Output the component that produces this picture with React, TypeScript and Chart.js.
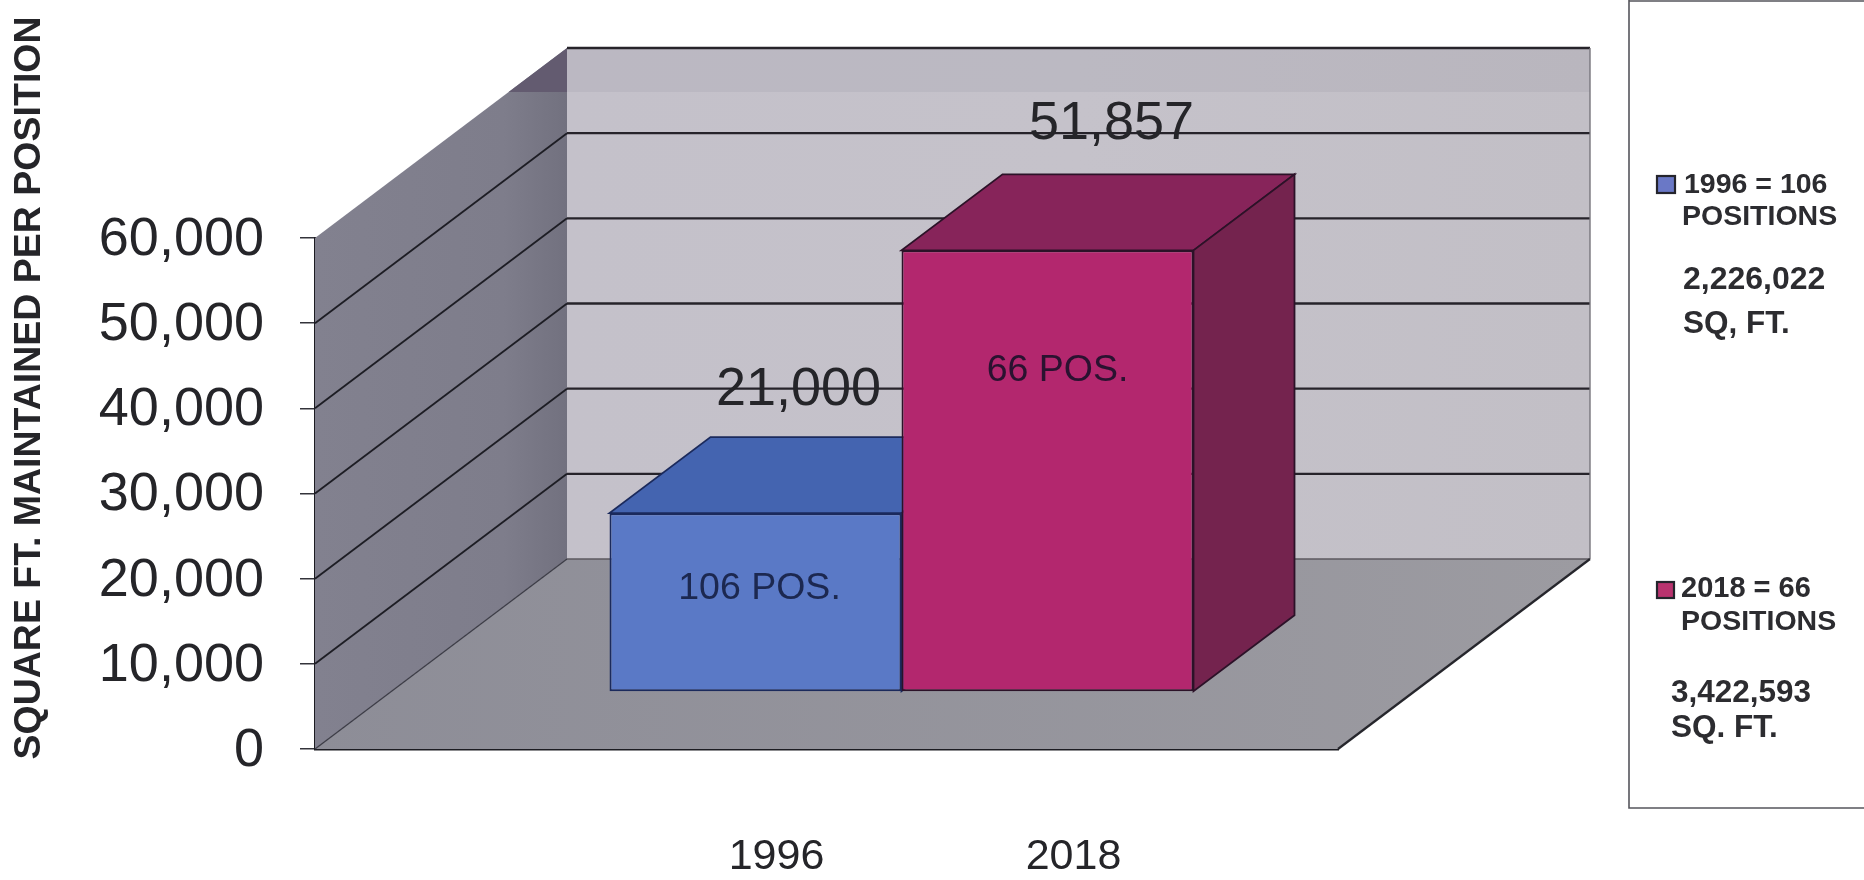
import React, { useEffect, useRef } from "react";
import { Chart, registerables } from "chart.js";

Chart.register(...registerables);

const categories = [""];
const seriesLabels = ["1996 = 106 POSITIONS", "2018 = 66 POSITIONS"];
const seriesValues = [21000, 51857];
const axisYears = ["1996", "2018"];
const barNotes = ["106 POS.", "66 POS."];
const yTitle = "SQUARE FT. MAINTAINED PER POSITION";
const legendLines = [
  ["1996 = 106", "POSITIONS", "2,226,022", "SQ, FT."],
  ["2018 = 66", "POSITIONS", "3,422,593", "SQ. FT."],
];

const FONT = '"Liberation Sans", Arial, sans-serif';
const INK = "#252529";
const DEPTH_X = 252;
const DEPTH_Y = 190;
const BAR_SHIFT_X = 75;
const BAR_SHIFT_Y = 57;
const BAR_DEPTH_X = 101;
const BAR_DEPTH_Y = 76;

const barStyles = [
  { front: "#5a79c6", top: "#4464b0", side: "#3d5699", line: "#1b2a5c", note: "#1c2850" },
  { front: "#b3276e", top: "#87245a", side: "#74234e", line: "#2c1228", note: "#2a1230" },
];
const dataLabelOffsets = [
  { x: 43, y: -123 },
  { x: 64, y: -126 },
];
const yearOffsets = [
  { x: 21, y: 166 },
  { x: 26, y: 166 },
];
const noteOffsets = [
  { x: 4, y: 76 },
  { x: 10, y: 120 },
];

function poly(ctx: CanvasRenderingContext2D, pts: number[][], fill?: any, stroke?: string, width = 1.5) {
  ctx.beginPath();
  pts.forEach((p, i) => (i ? ctx.lineTo(p[0], p[1]) : ctx.moveTo(p[0], p[1])));
  ctx.closePath();
  if (fill) {
    ctx.fillStyle = fill;
    ctx.fill();
  }
  if (stroke) {
    ctx.strokeStyle = stroke;
    ctx.lineWidth = width;
    ctx.stroke();
  }
}

function line(ctx: CanvasRenderingContext2D, x1: number, y1: number, x2: number, y2: number, color: string, width: number) {
  ctx.beginPath();
  ctx.moveTo(x1, y1);
  ctx.lineTo(x2, y2);
  ctx.strokeStyle = color;
  ctx.lineWidth = width;
  ctx.stroke();
}

function openBar(chart: any, i: number) {
  const ctx = chart.ctx;
  const bar = chart.getDatasetMeta(i).data[0];
  const s = barStyles[i];
  const l = bar.x - bar.width / 2;
  const r = bar.x + bar.width / 2;
  const t = bar.y;
  const b = bar.base;
  ctx.save();
  ctx.translate(BAR_SHIFT_X, -BAR_SHIFT_Y);
  poly(ctx, [[l, t], [r, t], [r + BAR_DEPTH_X, t - BAR_DEPTH_Y], [l + BAR_DEPTH_X, t - BAR_DEPTH_Y]], s.top, s.line, 1.8);
  poly(ctx, [[r, t], [r + BAR_DEPTH_X, t - BAR_DEPTH_Y], [r + BAR_DEPTH_X, b - BAR_DEPTH_Y], [r, b]], s.side, s.line, 1.8);
}

const roomPlugin = {
  id: "room",
  beforeDatasetsDraw(chart: any) {
    const { ctx, chartArea: a, scales } = chart;
    const y = scales.y;
    const top = a.top - DEPTH_Y;
    const bot = a.bottom - DEPTH_Y;
    const bx = a.left + DEPTH_X;
    const brx = a.right + DEPTH_X;
    ctx.save();

    const back = ctx.createLinearGradient(bx, 0, brx, 0);
    back.addColorStop(0, "#c4c1ca");
    back.addColorStop(0.5, "#c5c2ca");
    back.addColorStop(1, "#c2bfc6");
    ctx.fillStyle = back;
    ctx.fillRect(bx, top, brx - bx, bot - top);
    ctx.fillStyle = "rgba(110,105,130,0.10)";
    ctx.fillRect(bx, top, brx - bx, 44);

    const wall = ctx.createLinearGradient(a.left, 0, bx, 0);
    wall.addColorStop(0, "#82818f");
    wall.addColorStop(0.75, "#7e7d8b");
    wall.addColorStop(1, "#72717f");
    poly(ctx, [[a.left, a.top], [bx, top], [bx, bot], [a.left, a.bottom]], wall);

    const bandY = top + 44;
    const bandX = bx - (44 / DEPTH_Y) * DEPTH_X;
    poly(ctx, [[bandX, bandY], [bx, top], [bx, bandY]], "#635b70");

    const floor = ctx.createLinearGradient(a.left, 0, brx, 0);
    floor.addColorStop(0, "#8d8d97");
    floor.addColorStop(1, "#9c9ba1");
    poly(ctx, [[a.left, a.bottom], [a.right, a.bottom], [brx, bot], [bx, bot]], floor);

    y.ticks.forEach((t: any) => {
      const py = y.getPixelForValue(t.value);
      if (t.value === 0) {
        line(ctx, a.left, py, bx, py - DEPTH_Y, "#3c3c46", 1.3);
        line(ctx, bx, py - DEPTH_Y, brx, py - DEPTH_Y, "#5c585f", 1.3);
      } else {
        if (t.value < 60000) line(ctx, a.left, py, bx, py - DEPTH_Y, "#1d1d24", 1.8);
        line(ctx, bx, py - DEPTH_Y, brx, py - DEPTH_Y, "#26232a", 2.3);
      }
    });
    line(ctx, brx, top, brx, bot, "#77757c", 1.4);
    line(ctx, a.right, a.bottom, brx, bot, "#26262c", 2.2);
    ctx.restore();
  },
  beforeDatasetDraw(chart: any, args: any) {
    // The library paints the last dataset first; the bars need the opposite
    // order here, so dataset 1 is painted once dataset 0 is finished.
    if (args.index === 1) return false;
    openBar(chart, 0);
    return true;
  },
  afterDatasetDraw(chart: any) {
    chart.ctx.restore();
    openBar(chart, 1);
    chart.getDatasetMeta(1).controller.draw();
    chart.ctx.restore();
  },
  afterDatasetsDraw(chart: any) {
    const { ctx, chartArea: a } = chart;
    ctx.save();
    ctx.textBaseline = "middle";
    ctx.textAlign = "center";

    chart.data.datasets.forEach((ds: any, i: number) => {
      const bar = chart.getDatasetMeta(i).data[0];
      const cx = bar.x + BAR_SHIFT_X;
      const topY = bar.y - BAR_SHIFT_Y;
      const baseY = bar.base - BAR_SHIFT_Y;

      ctx.fillStyle = INK;
      ctx.font = `54px ${FONT}`;
      ctx.fillText(ds.data[0].toLocaleString("en-US"), cx + dataLabelOffsets[i].x, topY + dataLabelOffsets[i].y);

      ctx.fillStyle = barStyles[i].note;
      ctx.font = `37.5px ${FONT}`;
      ctx.fillText(barNotes[i], cx + noteOffsets[i].x, topY + noteOffsets[i].y);

      ctx.fillStyle = INK;
      ctx.font = `43px ${FONT}`;
      ctx.fillText(axisYears[i], cx + yearOffsets[i].x, baseY + yearOffsets[i].y);
    });

    ctx.save();
    ctx.translate(30, 388);
    ctx.rotate(-Math.PI / 2);
    ctx.fillStyle = INK;
    ctx.font = `bold 37.5px ${FONT}`;
    ctx.fillText(yTitle, 0, 0);
    ctx.restore();

    const px = a.right + 291;
    ctx.strokeStyle = "#55555c";
    ctx.lineWidth = 1.6;
    ctx.beginPath();
    ctx.moveTo(chart.width, 1);
    ctx.lineTo(px, 1);
    ctx.moveTo(px, 0);
    ctx.lineTo(px, 808);
    ctx.lineTo(chart.width, 808);
    ctx.stroke();

    ctx.textAlign = "left";
    const swatches = [
      { x: px + 28, y: 176, w: 18, h: 17, c: "#6a78c6" },
      { x: px + 28, y: 582, w: 17, h: 16, c: "#b9336f" },
    ];
    const rows = [
      [
        { x: px + 55, y: 185, f: 28.5 },
        { x: px + 53, y: 217, f: 28.5 },
        { x: px + 54, y: 280, f: 32 },
        { x: px + 54, y: 324, f: 31.5 },
      ],
      [
        { x: px + 52, y: 589, f: 29 },
        { x: px + 52, y: 622, f: 28.5 },
        { x: px + 42, y: 693, f: 31.5 },
        { x: px + 42, y: 728, f: 31.5 },
      ],
    ];
    legendLines.forEach((group, g) => {
      const s = swatches[g];
      ctx.fillStyle = s.c;
      ctx.fillRect(s.x, s.y, s.w, s.h);
      ctx.strokeStyle = "#24242c";
      ctx.lineWidth = 2.2;
      ctx.strokeRect(s.x, s.y, s.w, s.h);
      ctx.fillStyle = "#2c2c30";
      group.forEach((text, j) => {
        const r = rows[g][j];
        ctx.font = `bold ${r.f}px ${FONT}`;
        ctx.fillText(text, r.x, r.y);
      });
    });
    ctx.restore();
  },
};

export default function App() {
  const ref = useRef<HTMLCanvasElement | null>(null);
  useEffect(() => {
    document.body.style.margin = "0";
    document.body.style.background = "#ffffff";
    const chart = new Chart(ref.current as HTMLCanvasElement, {
      type: "bar",
      data: {
        labels: categories,
        datasets: seriesLabels.map((label, i) => ({
          label,
          data: [seriesValues[i]],
          backgroundColor: barStyles[i].front,
          borderColor: barStyles[i].line,
          borderWidth: 2,
          borderSkipped: false,
          clip: false as any,
          categoryPercentage: 584 / 1023,
          barPercentage: 1,
        })),
      },
      options: {
        animation: false,
        responsive: false,
        events: [],
        layout: { padding: { left: 0, right: 526, top: 238, bottom: 131 } },
        plugins: { legend: { display: false }, tooltip: { enabled: false }, title: { display: false } },
        scales: {
          x: {
            afterFit: (s: any) => {
              s.height = 0;
            },
            ticks: { display: false },
            grid: { display: false },
            border: { display: true, color: "#1c1c22", width: 2.5 },
          },
          y: {
            min: 0,
            max: 60000,
            afterFit: (s: any) => {
              s.width = 315;
            },
            ticks: {
              stepSize: 10000,
              padding: 36,
              labelOffset: 2,
              color: INK,
              font: { family: FONT, size: 54 },
              callback: (v: any) => Number(v).toLocaleString("en-US"),
            },
            grid: { drawOnChartArea: false, drawTicks: true, tickLength: 15, color: "#33333a", lineWidth: 1.5 },
            border: { display: true, color: "#1c1c22", width: 2 },
          },
        },
      } as any,
      plugins: [roomPlugin as any],
    });
    return () => chart.destroy();
  }, []);
  return <canvas ref={ref} width={1864} height={880} style={{ display: "block" }} />;
}
